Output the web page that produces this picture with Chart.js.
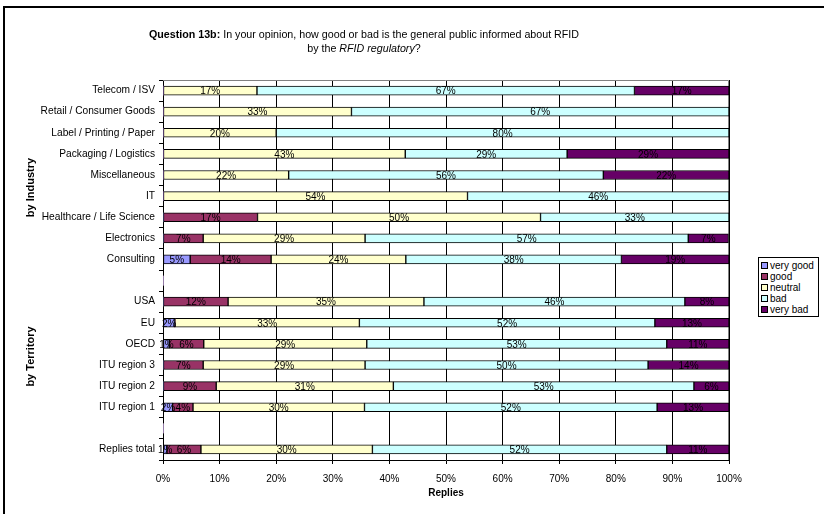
<!DOCTYPE html>
<html>
<head>
<meta charset="utf-8">
<script src="https://cdn.jsdelivr.net/npm/chart.js@4.4.1/dist/chart.umd.min.js"></script>
<style>
  html, body { margin: 0; padding: 0; background: #fff; }
  #wrap { position: relative; width: 824px; height: 514px; overflow: hidden; font-family: "Liberation Sans", Arial, sans-serif; }
  #frame { position: absolute; left: 3px; top: 6px; width: 840px; height: 530px; border: 2px solid #000; box-sizing: border-box; }
  #title { position: absolute; left: 64px; top: 27px; width: 600px; text-align: center; font-size: 10.7px; line-height: 14px; color: #000; }
  #chart-box { position: absolute; left: 0; top: 0; width: 824px; height: 514px; }
  #legend { position: absolute; left: 758px; top: 257px; width: 61px; border: 1px solid #000; background: #fff; padding: 2px 0 1px 2px; box-sizing: border-box; font-size: 10px; color: #000; }
  #legend div { height: 11px; line-height: 11px; white-space: nowrap; }
  #legend span { display: inline-block; width: 5px; height: 5px; border: 1px solid #000; margin-right: 2px; vertical-align: 0px; }
</style>
</head>
<body>
<div id="wrap">
  <div id="frame"></div>
  <div id="chart-box"><canvas id="chart"></canvas></div>
  <div id="title"><b>Question 13b:</b> In your opinion, how good or bad is the general public informed about RFID<br>by the <i>RFID regulatory</i>?</div>
  <div id="legend"></div>
</div>
<script>
// Survey replies, percentage per answer (rows with "" are spacer rows)
const categories = [
  "Telecom / ISV", "Retail / Consumer Goods", "Label / Printing / Paper",
  "Packaging / Logistics", "Miscellaneous", "IT", "Healthcare / Life Science",
  "Electronics", "Consulting", "",
  "USA", "EU", "OECD", "ITU region 3", "ITU region 2", "ITU region 1", "",
  "Replies total",
];

const veryGood = [0, 0, 0, 0, 0, 0, 0, 0, 4.8, 0, 0, 2.1, 1.1, 0, 0, 1.7, 0, 0.7];
const good     = [0, 0, 0, 0, 0, 0, 16.7, 7.1, 14.3, 0, 11.5, 0, 6.1, 7.1, 9.4, 3.6, 0, 6.0];
const neutral  = [16.6, 33.3, 20.0, 42.8, 22.2, 53.8, 50.0, 28.6, 23.8, 0, 34.6, 32.6, 28.8, 28.6, 31.3, 30.3, 0, 30.3];
const bad      = [66.7, 66.7, 80.0, 28.6, 55.6, 46.2, 33.3, 57.1, 38.1, 0, 46.1, 52.2, 53.0, 50.0, 53.1, 51.7, 0, 52.0];
const veryBad  = [16.7, 0, 0, 28.6, 22.2, 0, 0, 7.1, 19.0, 0, 7.8, 13.1, 11.0, 14.3, 6.2, 12.7, 0, 11.0];

const seriesNames  = ["very good", "good", "neutral", "bad", "very bad"];
const seriesColors = ["#9999FF", "#993366", "#FFFFCC", "#CCFFFF", "#660066"];
const xTicks = [0, 10, 20, 30, 40, 50, 60, 70, 80, 90, 100];

// group labels: text, first and last category index
const groups = [
  { text: "by Industry",  from: 0,  to: 9  },
  { text: "by Territory", from: 10, to: 15 },
];

const FONT = "'Liberation Sans', Arial, sans-serif";

// ---------------------------------------------------------------------------
// Plugins: segment labels, plot border, rotated group labels
// ---------------------------------------------------------------------------

const segmentLabels = {
  id: "segmentLabels",
  afterDatasetsDraw(chart) {
    const ctx = chart.ctx;
    ctx.save();
    ctx.font = "10px " + FONT;
    ctx.fillStyle = "#000";
    ctx.textAlign = "center";
    ctx.textBaseline = "middle";
    chart.data.datasets.forEach((ds, i) => {
      const meta = chart.getDatasetMeta(i);
      meta.data.forEach((bar, j) => {
        const v = ds.data[j];
        if (!v || v <= 0) return;
        ctx.fillText(Math.round(v) + "%", (bar.x + bar.base) / 2, bar.y + 1);
      });
    });
    ctx.restore();
  },
};

const plotBorder = {
  id: "plotBorder",
  beforeDatasetsDraw(chart) {
    const a = chart.chartArea;
    const ctx = chart.ctx;
    ctx.save();
    ctx.strokeStyle = "#808080";
    ctx.lineWidth = 1;
    ctx.beginPath();
    ctx.moveTo(a.left, a.top + 0.5);
    ctx.lineTo(a.right - 0.5, a.top + 0.5);
    ctx.lineTo(a.right - 0.5, a.bottom);
    ctx.stroke();
    ctx.restore();
  },
};

const groupLabels = {
  id: "groupLabels",
  afterDraw(chart) {
    const y = chart.scales.y;
    const ctx = chart.ctx;
    ctx.save();
    ctx.font = "bold 11px " + FONT;
    ctx.fillStyle = "#000";
    ctx.textAlign = "center";
    ctx.textBaseline = "middle";
    groups.forEach(g => {
      const mid = (y.getPixelForValue(g.from) + y.getPixelForValue(g.to)) / 2;
      ctx.save();
      ctx.translate(31, mid + 2);
      ctx.rotate(-Math.PI / 2);
      ctx.fillText(g.text, 0, 0);
      ctx.restore();
    });
    ctx.restore();
  },
};

// ---------------------------------------------------------------------------
// Chart
// ---------------------------------------------------------------------------

const seriesData = [veryGood, good, neutral, bad, veryBad];

new Chart(document.getElementById("chart"), {
  type: "bar",
  data: {
    labels: categories,
    datasets: seriesData.map((d, i) => ({
      label:           seriesNames[i],
      data:            d,
      backgroundColor: seriesColors[i],
      borderColor:     "#000",
      borderWidth:     c => (c.raw > 0 ? 1 : 0),
      borderSkipped:   false,
      barThickness:    9,
    })),
  },
  options: {
    indexAxis:           "y",
    responsive:          true,
    maintainAspectRatio: false,
    animation:           false,
    layout: { padding: { top: 80, right: 95, left: 0, bottom: 0 } },
    plugins: {
      legend:  { display: false },
      tooltip: { enabled: false },
    },
    scales: {
      x: {
        stacked: true,
        min: 0,
        max: 100,
        afterFit: s => { s.height = 54; },
        afterBuildTicks: s => { s.ticks = xTicks.map(v => ({ value: v })); },
        ticks: {
          font:     { family: FONT, size: 10 },
          color:    "#000",
          padding:  9,
          callback: v => v + "%",
        },
        grid:   { color: "#000", tickLength: 4 },
        border: { color: "#000" },
        title: {
          display: true,
          text:    "Replies",
          font:    { family: FONT, size: 10, weight: "bold" },
          color:   "#000",
          padding: { top: 0, bottom: 15 },
        },
      },
      y: {
        stacked: true,
        afterFit: s => { s.width = 163; },
        ticks: {
          font:    { family: FONT, size: 10.2 },
          color:   "#000",
          padding: 4,
          autoSkip: false,
        },
        grid:   { drawOnChartArea: false, color: "#000", tickLength: 4 },
        border: { color: "#000" },
      },
    },
  },
  plugins: [plotBorder, segmentLabels, groupLabels],
});

// legend built from the series arrays
document.getElementById("legend").innerHTML = seriesNames
  .map((n, i) => `<div><span style="background:${seriesColors[i]}"></span>${n}</div>`)
  .join("");
</script>
</body>
</html>
